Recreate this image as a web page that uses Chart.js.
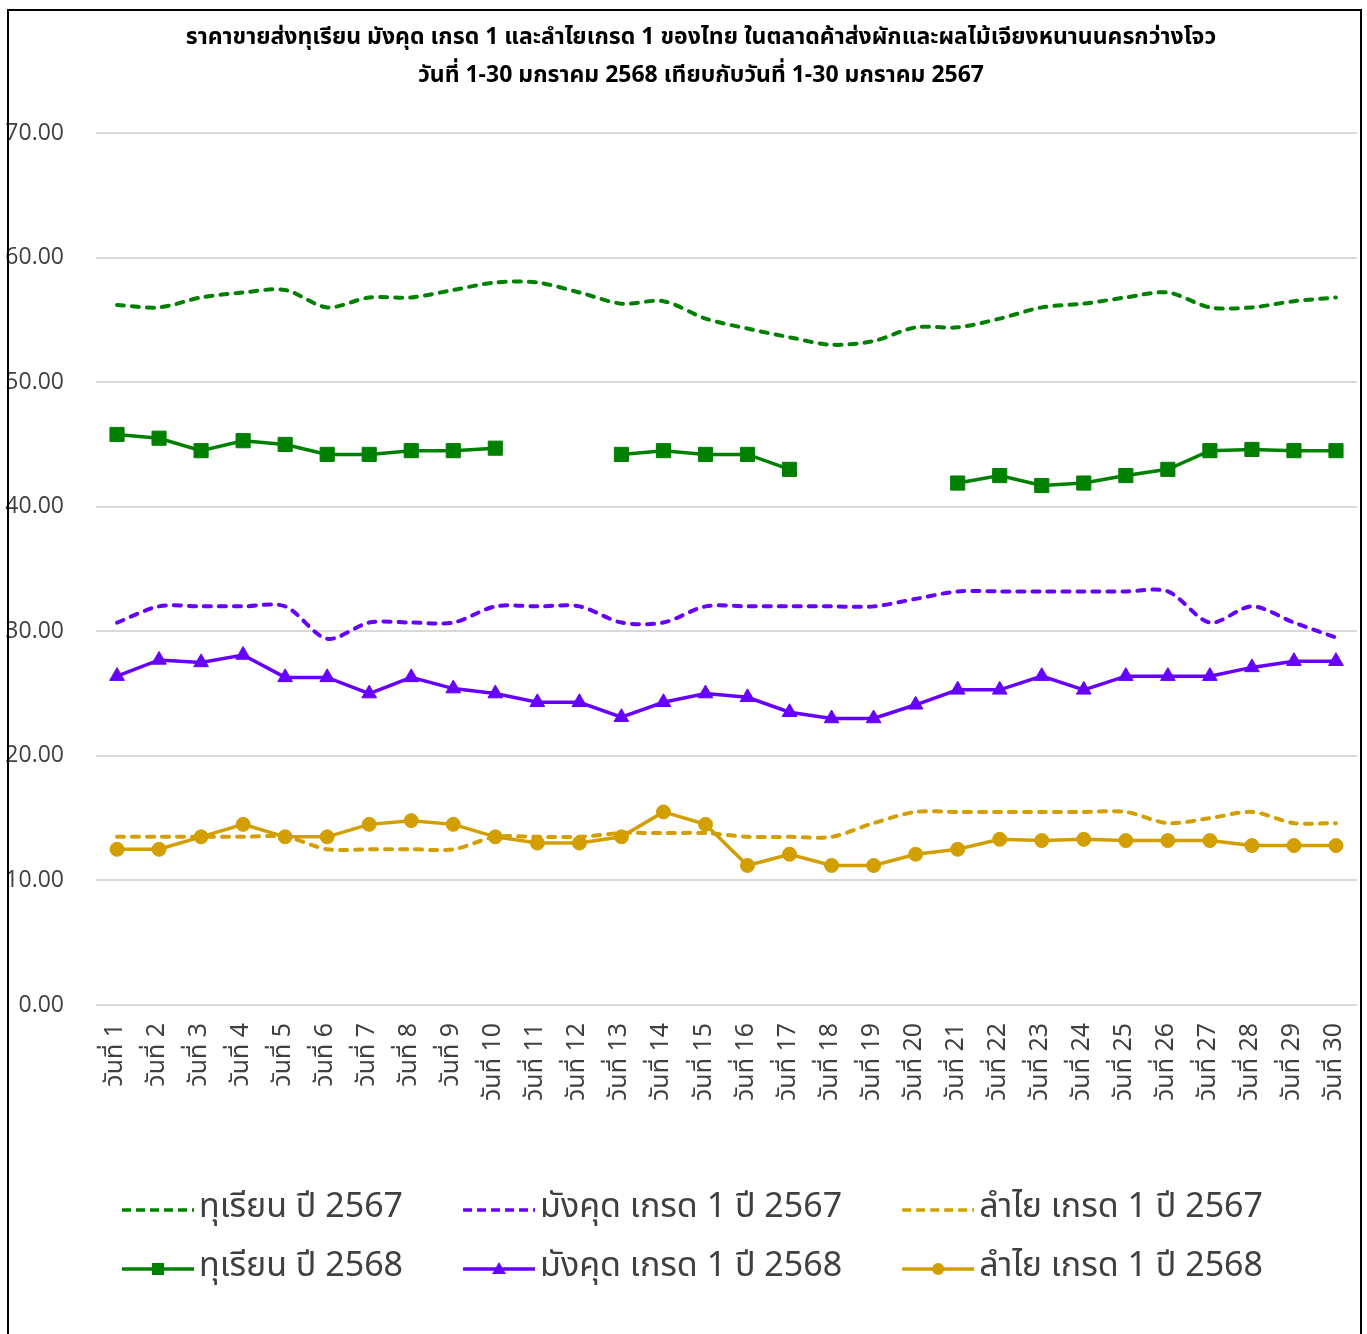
<!DOCTYPE html>
<html>
<head>
<meta charset="utf-8">
<script src="https://cdn.jsdelivr.net/npm/chart.js@4.4.1/dist/chart.umd.min.js"></script>
<style>
  html, body { margin: 0; padding: 0; background: #fff; }
  body { width: 1367px; height: 1334px; position: relative; overflow: hidden; }
  #chart { position: absolute; left: 0; top: 0; }
  #frame { position: absolute; left: 7px; top: 9px; width: 1351px; height: 1400px; border: 2px solid #000; pointer-events: none; }
</style>
</head>
<body>
<canvas id="chart" width="1402" height="1334"></canvas>
<div id="frame"></div>
<script>
// Day labels (x axis)
const days = [
    'วันที่ 1', 'วันที่ 2', 'วันที่ 3', 'วันที่ 4', 'วันที่ 5', 'วันที่ 6', 'วันที่ 7', 'วันที่ 8', 'วันที่ 9', 'วันที่ 10',
    'วันที่ 11', 'วันที่ 12', 'วันที่ 13', 'วันที่ 14', 'วันที่ 15', 'วันที่ 16', 'วันที่ 17', 'วันที่ 18', 'วันที่ 19', 'วันที่ 20',
    'วันที่ 21', 'วันที่ 22', 'วันที่ 23', 'วันที่ 24', 'วันที่ 25', 'วันที่ 26', 'วันที่ 27', 'วันที่ 28', 'วันที่ 29', 'วันที่ 30'
];

// Series values
const durian2567 = [56.2, 56.0, 56.8, 57.2, 57.4, 56.0, 56.8, 56.8, 57.4, 58.0, 58.0, 57.2, 56.3, 56.5, 55.1,
    54.3, 53.6, 53.0, 53.3, 54.4, 54.4, 55.1, 56.0, 56.3, 56.8, 57.2, 56.0, 56.0, 56.5, 56.8];
const mangosteen2567 = [30.7, 32.0, 32.0, 32.0, 32.0, 29.4, 30.7, 30.7, 30.7, 32.0, 32.0, 32.0, 30.7, 30.7, 32.0,
    32.0, 32.0, 32.0, 32.0, 32.6, 33.2, 33.2, 33.2, 33.2, 33.2, 33.2, 30.7, 32.0, 30.7, 29.5];
const longan2567 = [13.5, 13.5, 13.5, 13.5, 13.5, 12.5, 12.5, 12.5, 12.5, 13.5, 13.5, 13.5, 13.8, 13.8, 13.8,
    13.5, 13.5, 13.5, 14.6, 15.5, 15.5, 15.5, 15.5, 15.5, 15.5, 14.6, 15.0, 15.5, 14.6, 14.6];
const durian2568 = [45.8, 45.5, 44.5, 45.3, 45.0, 44.2, 44.2, 44.5, 44.5, 44.7, null, null, 44.2, 44.5, 44.2,
    44.2, 43.0, null, null, null, 41.9, 42.5, 41.7, 41.9, 42.5, 43.0, 44.5, 44.6, 44.5, 44.5];
const mangosteen2568 = [26.4, 27.7, 27.5, 28.1, 26.3, 26.3, 25.0, 26.3, 25.4, 25.0, 24.3, 24.3, 23.1, 24.3, 25.0,
    24.7, 23.5, 23.0, 23.0, 24.1, 25.3, 25.3, 26.4, 25.3, 26.4, 26.4, 26.4, 27.1, 27.6, 27.6];
const longan2568 = [12.5, 12.5, 13.5, 14.5, 13.5, 13.5, 14.5, 14.8, 14.5, 13.5, 13.0, 13.0, 13.5, 15.5, 14.5,
    11.2, 12.1, 11.2, 11.2, 12.1, 12.5, 13.3, 13.2, 13.3, 13.2, 13.2, 13.2, 12.8, 12.8, 12.8];

const seriesNames = [
    'ทุเรียน ปี 2567', 'มังคุด เกรด 1 ปี 2567', 'ลำไย เกรด 1 ปี 2567',
    'ทุเรียน ปี 2568', 'มังคุด เกรด 1 ปี 2568', 'ลำไย เกรด 1 ปี 2568'
];
const yTicks = [0, 10, 20, 30, 40, 50, 60, 70];

const titleLines = [
    'ราคาขายส่งทุเรียน มังคุด เกรด 1 และลำไยเกรด 1 ของไทย ในตลาดค้าส่งผักและผลไม้เจียงหนานนครกว่างโจว',
    'วันที่ 1-30 มกราคม 2568 เทียบกับวันที่ 1-30 มกราคม 2567'
];

const GREEN = '#008000';
const PURPLE = '#6600ff';
const GOLD = '#d29e00';
const thaiFont = 'Tahoma, "Noto Sans Thai", "Leelawadee UI", sans-serif';

// Small canvas used as legend sample: line (dashed or solid) plus marker
function legendImage(color, dashed, marker) {
    const c = document.createElement('canvas');
    c.width = 119;
    c.height = 24;
    const g = c.getContext('2d');
    g.strokeStyle = color;
    g.fillStyle = color;
    g.lineWidth = 3.5;
    if (dashed) g.setLineDash([9, 5]);
    g.beginPath();
    g.moveTo(47, 12);
    g.lineTo(119, 12);
    g.stroke();
    g.setLineDash([]);
    if (marker === 'rect') {
        g.fillRect(77, 6, 12, 12);
    } else if (marker === 'triangle') {
        g.beginPath();
        g.moveTo(83, 5);
        g.lineTo(90, 17);
        g.lineTo(76, 17);
        g.closePath();
        g.fill();
    } else if (marker === 'circle') {
        g.beginPath();
        g.arc(83, 12, 6, 0, Math.PI * 2);
        g.fill();
    }
    return c;
}

const legendImgs = [
    legendImage(GREEN, true), legendImage(PURPLE, true), legendImage(GOLD, true),
    legendImage(GREEN, false, 'rect'), legendImage(PURPLE, false, 'triangle'), legendImage(GOLD, false, 'circle')
];

function dashedSet(label, data, color) {
    return {
        label, data,
        borderColor: color, backgroundColor: color,
        borderWidth: 4, borderDash: [7, 8], borderCapStyle: 'round',
        pointRadius: 0, tension: 0.3, spanGaps: false
    };
}

function solidSet(label, data, color, style, radius) {
    return {
        label, data,
        borderColor: color, backgroundColor: color,
        borderWidth: 3.5, tension: 0, spanGaps: false,
        pointStyle: style, pointRadius: radius,
        pointBackgroundColor: color, pointBorderColor: color, pointBorderWidth: 1
    };
}

// nudge the legend a little to the left, the title stays centred
const legendShift = {
    id: 'legendShift',
    afterLayout(chart) {
        chart.legend.left -= 26;
        chart.legend.right -= 26;
    }
};

const ctx = document.getElementById('chart').getContext('2d');
new Chart(ctx, {
    type: 'line',
    data: {
        labels: days,
        datasets: [
            dashedSet(seriesNames[0], durian2567, GREEN),
            dashedSet(seriesNames[1], mangosteen2567, PURPLE),
            dashedSet(seriesNames[2], longan2567, GOLD),
            solidSet(seriesNames[3], durian2568, GREEN, 'rect', 10),
            solidSet(seriesNames[4], mangosteen2568, PURPLE, 'triangle', 8.5),
            solidSet(seriesNames[5], longan2568, GOLD, 'circle', 7)
        ]
    },
    plugins: [legendShift],
    options: {
        responsive: false,
        animation: false,
        layout: { padding: { left: 0, right: 0, top: 0, bottom: 38 } },
        plugins: {
            title: {
                display: true,
                text: titleLines,
                color: '#000',
                font: { family: thaiFont, size: 23, weight: 'bold', lineHeight: 38 / 23 },
                padding: { top: 20, bottom: 37 }
            },
            legend: {
                position: 'bottom',
                labels: {
                    usePointStyle: true,
                    pointStyleWidth: 95,
                    padding: 25,
                    color: '#404040',
                    font: { family: thaiFont, size: 34 },
                    generateLabels: (chart) => {
                        const items = Chart.defaults.plugins.legend.labels.generateLabels(chart);
                        items.forEach((item, i) => { item.pointStyle = legendImgs[i]; });
                        return items;
                    }
                }
            },
            tooltip: { enabled: false }
        },
        scales: {
            x: {
                offset: true,
                grid: { display: false, drawTicks: false },
                border: { display: false },
                ticks: {
                    autoSkip: false, minRotation: 90, maxRotation: 90, padding: 18,
                    color: '#404040', font: { family: thaiFont, size: 25 }
                },
                afterFit: (scale) => { scale.height = 163; }
            },
            y: {
                min: yTicks[0],
                max: yTicks[yTicks.length - 1],
                afterBuildTicks: (scale) => { scale.ticks = yTicks.map(v => ({ value: v })); },
                grid: { color: '#d9d9d9', lineWidth: 2, drawTicks: false },
                border: { display: false },
                ticks: {
                    padding: 32,
                    color: '#404040',
                    font: { family: '"Open Sans"', size: 23 },
                    callback: (v) => Number(v).toFixed(2)
                },
                afterFit: (scale) => { scale.width = 96; }
            },
            // empty right-hand axis, only reserves space so the plot ends at the frame
            yRight: {
                position: 'right',
                grid: { display: false, drawTicks: false },
                border: { display: false },
                ticks: { display: false },
                afterFit: (scale) => { scale.width = 45; }
            }
        }
    }
});
</script>
</body>
</html>
